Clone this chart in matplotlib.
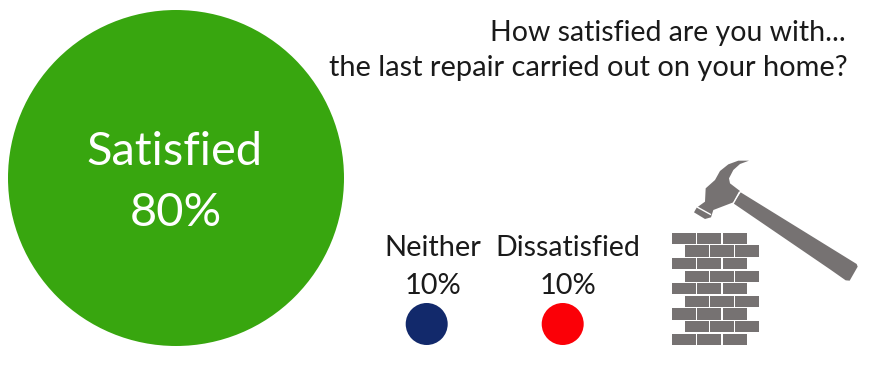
import matplotlib
matplotlib.use("Agg")
import matplotlib.pyplot as plt
from matplotlib.patches import Circle, Polygon, Rectangle

categories = ["Satisfied", "Neither", "Dissatisfied"]
values = [80, 10, 10]
colors = ["#38a60f", "#12296b", "#fb0007"]
title_lines = ["How satisfied are you with...", "the last repair carried out on your home?"]

plt.rcParams["font.family"] = ["Lato", "DejaVu Sans"]
W, H = 879, 375
fig = plt.figure(figsize=(W / 100, H / 100), dpi=100)
ax = fig.add_axes([0, 0, 1, 1])
ax.set_xlim(0, W)
ax.set_ylim(H, 0)
ax.axis("off")
INK = "#1a1a1a"
GREY = "#767272"
PX_PER_PCT = 2.1
centres = [(176, 178), (426.7, 324), (562.7, 324)]
for v, c, (cx, cy) in zip(values, colors, centres):
    ax.add_patch(Circle((cx, cy), v * PX_PER_PCT, fc=c, ec="none"))

px = 0.72
ax.text(175, 152, categories[0], color="white", fontsize=47 * px, ha="center", va="center")
ax.text(176, 213, f"{values[0]}%", color="white", fontsize=47 * px, ha="center", va="center")
ax.text(433, 248, categories[1], color=INK, fontsize=29 * px, ha="center", va="center")
ax.text(433, 286, f"{values[1]}%", color=INK, fontsize=29 * px, ha="center", va="center")
ax.text(567.5, 248, categories[2], color=INK, fontsize=28.5 * px, ha="center", va="center")
ax.text(568, 286, f"{values[2]}%", color=INK, fontsize=29 * px, ha="center", va="center")
ax.text(846, 33, title_lines[0], color=INK, fontsize=28.5 * px, ha="right", va="center")
ax.text(848, 68, title_lines[1], color=INK, fontsize=29 * px, ha="right", va="center")

# brick wall icon
for row in range(9):
    x0 = 672 if row % 2 == 0 else 684.7
    y0 = 232.7 + row * 12.6
    for col in range(3):
        ax.add_patch(Rectangle((x0 + col * 25.35, y0), 24, 11.3, fc=GREY, ec="none"))

# hammer icon: handle in wide-crop coordinates, head in close-crop coordinates
def z(points):
    return [(650 + a / 3, 150 + b / 3) for a, b in points]

def y(points):
    return [(685 + a / 3, 155 + b / 3) for a, b in points]

handle = [(272, 127), (620, 342), (623, 350), (599, 392), (587, 391), (540, 358), (250, 160)]
head = [(192, 17), (160, 17), (130, 28), (105, 48), (90, 75), (62, 100), (60, 140),
        (35, 158), (27, 172), (60, 192), (78, 187), (85, 165), (145, 142), (165, 108),
        (135, 85), (132, 70), (145, 45), (165, 27)]
ax.add_patch(Polygon(z(handle), closed=True, fc=GREY, ec="none"))
ax.add_patch(Polygon(y(head), closed=True, fc=GREY, ec="none"))
ax.plot(*zip(*y([(38, 157), (76, 178)])), color="white", lw=1)
ax.plot(*zip(*z([(268, 127), (250, 160)])), color="white", lw=1)

fig.savefig("out.png", dpi=100, facecolor="white")
